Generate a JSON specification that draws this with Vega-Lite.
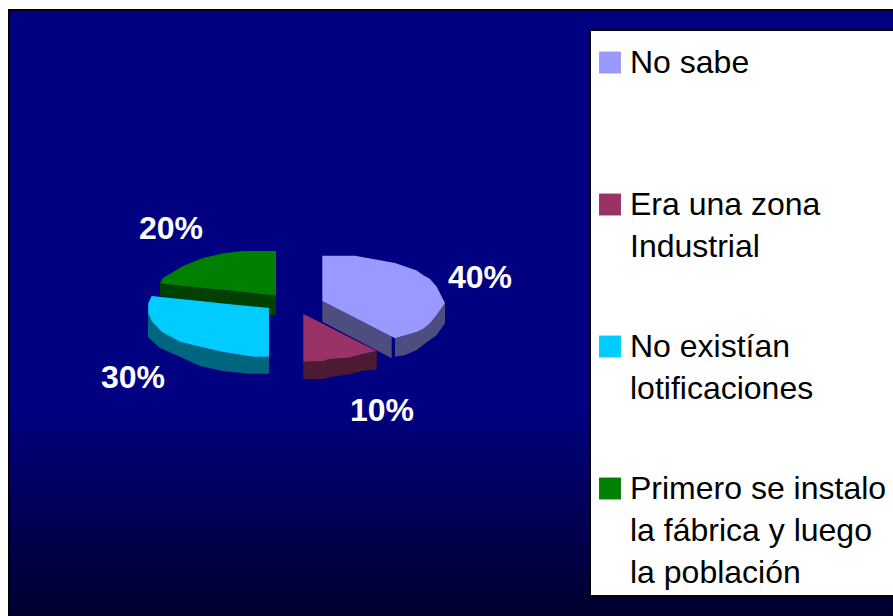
{"$schema":"https://vega.github.io/schema/vega-lite/v6.json","width":893,"height":616,"padding":0,"autosize":{"type":"none"},"background":"white","view":{"stroke":null},
"datasets":{"frame":[{"x":9,"x2":900,"y":10,"y2":625}],"box":[{"x":590,"x2":900,"y":30,"y2":596}],
"labels":[{"label":"40%","x":480,"y":278},{"label":"10%","x":382,"y":411},{"label":"30%","x":133,"y":378},{"label":"20%","x":171,"y":229}],
"outline":[
{"category":"Primero se instalo|la fábrica y luego|la población","face":"side-green","x":160,"y":283.3,"y2":296},
{"category":"Primero se instalo|la fábrica y luego|la población","face":"side-green","x":276,"y":295.7,"y2":315.7},
{"category":"No existían|lotificaciones","face":"side-cyan","x":148,"y":303,"y2":337},
{"category":"No existían|lotificaciones","face":"side-cyan","x":160,"y":330,"y2":348},
{"category":"No existían|lotificaciones","face":"side-cyan","x":180,"y":341.7,"y2":356.7},
{"category":"No existían|lotificaciones","face":"side-cyan","x":200,"y":346.7,"y2":366},
{"category":"No existían|lotificaciones","face":"side-cyan","x":223,"y":352,"y2":371},
{"category":"No existían|lotificaciones","face":"side-cyan","x":250,"y":356.5,"y2":373.7},
{"category":"No existían|lotificaciones","face":"side-cyan","x":269,"y":356.7,"y2":373.7},
{"category":"Era una zona|Industrial","face":"side-maroon","x":303.3,"y":361.7,"y2":379},
{"category":"Era una zona|Industrial","face":"side-maroon","x":323.3,"y":361,"y2":379},
{"category":"Era una zona|Industrial","face":"side-maroon","x":330,"y":359,"y2":377},
{"category":"Era una zona|Industrial","face":"side-maroon","x":348.3,"y":357.7,"y2":374.5},
{"category":"Era una zona|Industrial","face":"side-maroon","x":361.7,"y":354.3,"y2":371},
{"category":"Era una zona|Industrial","face":"side-maroon","x":376.7,"y":351,"y2":369.5},
{"category":"No sabe","face":"side-blue-a","x":322.3,"y":301,"y2":321.7},
{"category":"No sabe","face":"side-blue-a","x":391.7,"y":336.5,"y2":358.3},
{"category":"No sabe","face":"side-blue-b","x":395,"y":338.3,"y2":356.7},
{"category":"No sabe","face":"side-blue-b","x":405,"y":335.5,"y2":355},
{"category":"No sabe","face":"side-blue-b","x":416.7,"y":332,"y2":350},
{"category":"No sabe","face":"side-blue-b","x":423,"y":329,"y2":345},
{"category":"No sabe","face":"side-blue-b","x":436.7,"y":315,"y2":335},
{"category":"No sabe","face":"side-blue-b","x":445,"y":303,"y2":323},
{"category":"Primero se instalo|la fábrica y luego|la población","face":"top","x":160,"y":283.3,"y2":283.3},
{"category":"Primero se instalo|la fábrica y luego|la población","face":"top","x":163,"y":278,"y2":283.7},
{"category":"Primero se instalo|la fábrica y luego|la población","face":"top","x":183,"y":266,"y2":286},
{"category":"Primero se instalo|la fábrica y luego|la población","face":"top","x":203,"y":258,"y2":288},
{"category":"Primero se instalo|la fábrica y luego|la población","face":"top","x":225,"y":253,"y2":290},
{"category":"Primero se instalo|la fábrica y luego|la población","face":"top","x":243,"y":251,"y2":292},
{"category":"Primero se instalo|la fábrica y luego|la población","face":"top","x":276,"y":251,"y2":295.7},
{"category":"No existían|lotificaciones","face":"top","x":148.3,"y":303,"y2":313},
{"category":"No existían|lotificaciones","face":"top","x":151.7,"y":296,"y2":321},
{"category":"No existían|lotificaciones","face":"top","x":161.7,"y":297,"y2":331.7},
{"category":"No existían|lotificaciones","face":"top","x":180,"y":299,"y2":341.7},
{"category":"No existían|lotificaciones","face":"top","x":200,"y":301,"y2":346.7},
{"category":"No existían|lotificaciones","face":"top","x":223,"y":303.5,"y2":352},
{"category":"No existían|lotificaciones","face":"top","x":253,"y":306.5,"y2":356.7},
{"category":"No existían|lotificaciones","face":"top","x":269,"y":308,"y2":356.7},
{"category":"Era una zona|Industrial","face":"top","x":303.3,"y":314,"y2":361.7},
{"category":"Era una zona|Industrial","face":"top","x":323.3,"y":324,"y2":361},
{"category":"Era una zona|Industrial","face":"top","x":330,"y":327.5,"y2":359},
{"category":"Era una zona|Industrial","face":"top","x":348.3,"y":336.7,"y2":357.7},
{"category":"Era una zona|Industrial","face":"top","x":361.7,"y":343.5,"y2":354.3},
{"category":"Era una zona|Industrial","face":"top","x":376.7,"y":351,"y2":351},
{"category":"No sabe","face":"top","x":322.3,"y":255.7,"y2":301},
{"category":"No sabe","face":"top","x":355,"y":255.7,"y2":317.8},
{"category":"No sabe","face":"top","x":373,"y":259,"y2":327},
{"category":"No sabe","face":"top","x":395,"y":263,"y2":338.3},
{"category":"No sabe","face":"top","x":416.7,"y":270.5,"y2":332},
{"category":"No sabe","face":"top","x":423,"y":275,"y2":329},
{"category":"No sabe","face":"top","x":430,"y":279,"y2":323},
{"category":"No sabe","face":"top","x":436.7,"y":286.7,"y2":315},
{"category":"No sabe","face":"top","x":445,"y":303,"y2":303}
]},
"layer":[
{"data":{"name":"frame"},"mark":{"type":"rect","stroke":"black","strokeWidth":2,"color":{"gradient":"linear","x1":0,"y1":0,"x2":0,"y2":1,"stops":[{"offset":0,"color":"#000080"},{"offset":0.65,"color":"#000080"},{"offset":1,"color":"#00002a"}]}},
"encoding":{"x":{"field":"x","type":"quantitative","scale":{"domain":[0,893]},"axis":null},"x2":{"field":"x2"},"y":{"field":"y","type":"quantitative","scale":{"domain":[616,0]},"axis":null},"y2":{"field":"y2"}}},
{"data":{"name":"box"},"mark":{"type":"rect","fill":"white","stroke":"black","strokeWidth":2},
"encoding":{"x":{"field":"x","type":"quantitative","scale":{"domain":[0,893]},"axis":null},"x2":{"field":"x2"},"y":{"field":"y","type":"quantitative","scale":{"domain":[616,0]},"axis":null},"y2":{"field":"y2"}}},
{"data":{"name":"outline"},"transform":[{"filter":"datum.face !== 'top'"}],"mark":{"type":"area","interpolate":"linear"},
"encoding":{"x":{"field":"x","type":"quantitative","scale":{"domain":[0,893]},"axis":null},"y":{"field":"y","type":"quantitative","stack":null,"scale":{"domain":[616,0]},"axis":null},"y2":{"field":"y2"},
"color":{"field":"face","type":"nominal","legend":null,"scale":{"domain":["side-green","side-cyan","side-maroon","side-blue-a","side-blue-b"],"range":["#004000","#006680","#4d1a33","#4d4d80","#4d4d80"]}}}},
{"data":{"name":"outline"},"transform":[{"filter":"datum.face === 'top'"}],"mark":{"type":"area","interpolate":"linear"},
"encoding":{"x":{"field":"x","type":"quantitative","scale":{"domain":[0,893]},"axis":null},"y":{"field":"y","type":"quantitative","stack":null,"scale":{"domain":[616,0]},"axis":null},"y2":{"field":"y2"},
"color":{"field":"category","type":"nominal","scale":{"domain":["No sabe","Era una zona|Industrial","No existían|lotificaciones","Primero se instalo|la fábrica y luego|la población"],"range":["#9999FF","#993366","#00CCFF","#008000"]},
"legend":{"orient":"none","legendX":584,"legendY":36.5,"zindex":1,"title":null,"padding":10,"columns":1,"symbolType":"square","symbolSize":480,"symbolStrokeWidth":0,"labelFont":"Liberation Sans","labelFontSize":32,"labelColor":"black","labelLimit":400,"labelBaseline":"top","labelExpr":"split(datum.label,'|')","labelOffset":4,"gridAlign":"all","rowPadding":25,"encoding":{"labels":{"lineHeight":{"value":42},"dy":{"value":-14.5}}}}}}},
{"data":{"name":"labels"},"mark":{"type":"text","font":"Liberation Sans","fontWeight":"bold","fontSize":32,"color":"white","align":"center","baseline":"middle"},
"encoding":{"x":{"field":"x","type":"quantitative","scale":{"domain":[0,893]},"axis":null},"y":{"field":"y","type":"quantitative","scale":{"domain":[616,0]},"axis":null},"text":{"field":"label"}}}
],
"resolve":{"scale":{"color":"independent"}}}
